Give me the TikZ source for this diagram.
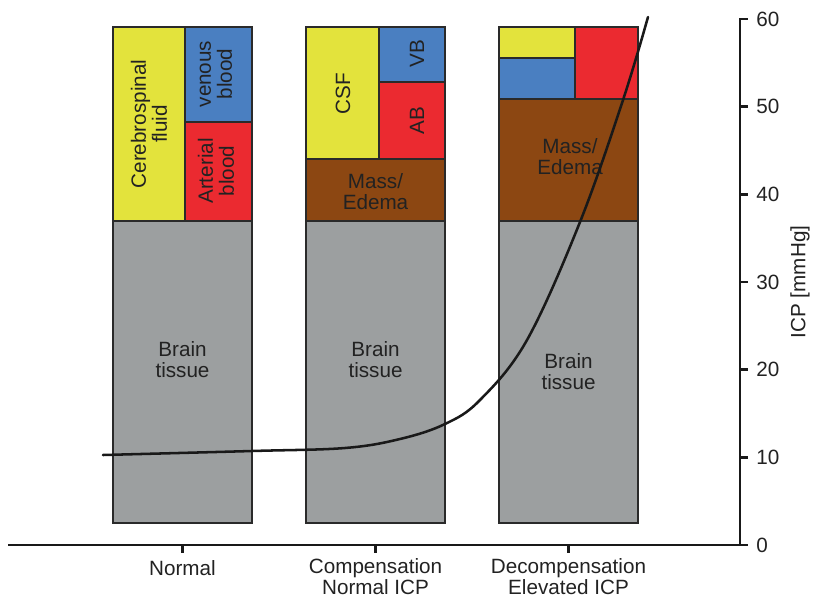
\documentclass[tikz,border=0pt]{standalone}
\usepackage{fontspec}
\setmainfont{Liberation Sans}
\definecolor{csfyellow}{HTML}{E3E33C}
\definecolor{vbblue}{HTML}{4A7FC1}
\definecolor{abred}{HTML}{EB2A30}
\definecolor{massbrown}{HTML}{8C4712}
\definecolor{braingray}{HTML}{9C9FA0}
\definecolor{boxline}{HTML}{2A2A2A}
\definecolor{txt}{HTML}{222222}
\begin{document}
\begin{tikzpicture}[x=0.75pt,y=-0.75pt,
  part/.style={draw=boxline, line width=1.1pt},
  lbl/.style={text=txt, font=\fontsize{15.5}{15.8}\selectfont, align=center, inner sep=0pt},
  vlbl/.style={lbl, rotate=90},
  axisline/.style={line width=1.9pt, draw=black!90},
  curve/.style={line width=1.9pt, draw=black!90, line join=round, line cap=round}
]
\useasboundingbox (0,0) rectangle (816,599);

% --- Normal
\filldraw[part, fill=braingray]  (113,221) rectangle (252,523);
\filldraw[part, fill=csfyellow]  (113,27)  rectangle (185,221);
\filldraw[part, fill=vbblue]     (185,27)  rectangle (252,122);
\filldraw[part, fill=abred]      (185,122) rectangle (252,221);
\node[vlbl] (csf1) at (149,124) {Cerebrospinal\\fluid};
\node[vlbl] (vb1)  at (216,74)  {venous\\blood};
\node[vlbl] (ab1)  at (216,171) {Arterial\\blood};
\node[lbl]  (bt1)  at (182.5,360) {Brain\\tissue};

% --- Compensation
\filldraw[part, fill=braingray]  (306,221) rectangle (445,523);
\filldraw[part, fill=massbrown]  (306,159) rectangle (445,221);
\filldraw[part, fill=csfyellow]  (306,27)  rectangle (379,159);
\filldraw[part, fill=vbblue]     (379,27)  rectangle (445,82);
\filldraw[part, fill=abred]      (379,82)  rectangle (445,159);
\node[vlbl] (csf2) at (343,94)  {CSF};
\node[vlbl] (vb2)  at (417,54)  {VB};
\node[vlbl] (ab2)  at (417,121) {AB};
\node[lbl]  (me2)  at (375.5,192) {Mass/\\Edema};
\node[lbl]  (bt2)  at (375.5,360) {Brain\\tissue};

% --- Decompensation
\filldraw[part, fill=braingray]  (499,221) rectangle (638,523);
\filldraw[part, fill=massbrown]  (499,99)  rectangle (638,221);
\filldraw[part, fill=csfyellow]  (499,27)  rectangle (575,58);
\filldraw[part, fill=vbblue]     (499,58)  rectangle (575,99);
\filldraw[part, fill=abred]      (575,27)  rectangle (638,99);
\node[lbl]  (me3)  at (570,157) {Mass/\\Edema};
\node[lbl]  (bt3)  at (568.5,372) {Brain\\tissue};

% --- axes
\draw[axisline] (8,545) -- (740,545) -- (740,18);
\foreach \v/\txt [evaluate=\v as \yy using 545-87.67*\v] in {0/0,1/10,2/20,3/30,4/40,5/50,6/60}{
  \draw[axisline] (740,\yy) -- (748,\yy);
  \node[lbl, anchor=west] (tick\v) at (756,\yy) {\txt};
}
\node[vlbl] (ylab) at (800,282) {ICP [mmHg]};

\foreach \xx in {182.5,375.5,568.5}
  \draw[axisline] (\xx,545) -- (\xx,553);
\node[lbl] (xa) at (182.5,568) {Normal};
\node[lbl] (xb) at (375.5,577) {Compensation\\Normal ICP};
\node[lbl] (xc) at (568.5,577) {Decompensation\\Elevated ICP};

% --- pressure-volume curve
\draw[curve] plot[smooth, tension=0.6] coordinates {
  (103,455) (252,451) (345,448) (400,439) (445,424)
  (480,400) (527,340) (580,222) (623,100) (648,17)};
\end{tikzpicture}
\end{document}
